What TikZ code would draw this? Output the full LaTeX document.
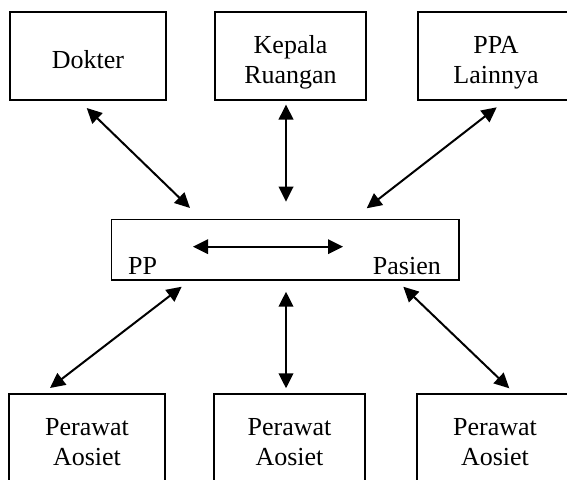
\documentclass[tikz,border=0pt]{standalone}
\usepackage{fontspec}
\setmainfont{Liberation Serif}
\usetikzlibrary{arrows.meta}
\newcommand{\bxt}[2]{\raisebox{#1}[0pt][0pt]{\begin{tabular}[t]{@{}c@{}}#2\end{tabular}}}
\begin{document}
\begin{tikzpicture}[x=1pt,y=-1pt,
  box/.style={draw, line width=1.7pt, minimum width=156pt, minimum height=88.3pt, inner sep=0pt,
    font=\fontsize{26}{30}\selectfont},
  txt/.style={inner sep=0pt, font=\fontsize{26}{30}\selectfont},
  biarrow/.style={line width=2pt, {Triangle[length=15pt,width=14.5pt]}-{Triangle[length=15pt,width=14.5pt]}}]
\useasboundingbox (0,0) rectangle (567,479);
\clip (0,0) rectangle (567,479);
% top boxes
\node[box] (dok) at (88,55.85) {\bxt{-12.4pt}{Dokter}};
\node[box, minimum width=151pt] (kep) at (290.5,55.85) {\bxt{2.85pt}{Kepala\\Ruangan}};
\node[box] (ppa) at (496,55.85) {\bxt{2.85pt}{PPA\\Lainnya}};
% centre box
\node[draw, line width=1.7pt, minimum width=347.5pt, minimum height=60.5pt, inner sep=0pt] (ctr) at (285.25,249.75) {};
\node[txt, anchor=base west] (pp) at (128,274) {PP};
\node[txt, anchor=base east] (pas) at (441,274) {Pasien};
% bottom boxes
\node[box] (pa1) at (87,438) {\bxt{3pt}{Perawat\\Aosiet}};
\node[box, minimum width=151pt] (pa2) at (289.5,438) {\bxt{3pt}{Perawat\\Aosiet}};
\node[box] (pa3) at (495,438) {\bxt{3pt}{Perawat\\Aosiet}};
% arrow ends
\coordinate (d1) at (86.7,108);   \coordinate (d2) at (190,208);
\coordinate (k1) at (286,104.5);  \coordinate (k2) at (286,201.7);
\coordinate (p1) at (496.7,107.3);\coordinate (p2) at (366.7,208.3);
\coordinate (c1) at (193,246.7);  \coordinate (c2) at (343,246.7);
\coordinate (l1) at (181.7,286.7);\coordinate (l2) at (50,388);
\coordinate (m1) at (286,291.7);  \coordinate (m2) at (286,388.3);
\coordinate (r1) at (403.3,286.7);\coordinate (r2) at (509.3,388.3);
\draw[biarrow] (d1) -- (d2);
\draw[biarrow] (k1) -- (k2);
\draw[biarrow] (p1) -- (p2);
\draw[biarrow] (c1) -- (c2);
\draw[biarrow] (l1) -- (l2);
\draw[biarrow] (m1) -- (m2);
\draw[biarrow] (r1) -- (r2);
\end{tikzpicture}
\end{document}
